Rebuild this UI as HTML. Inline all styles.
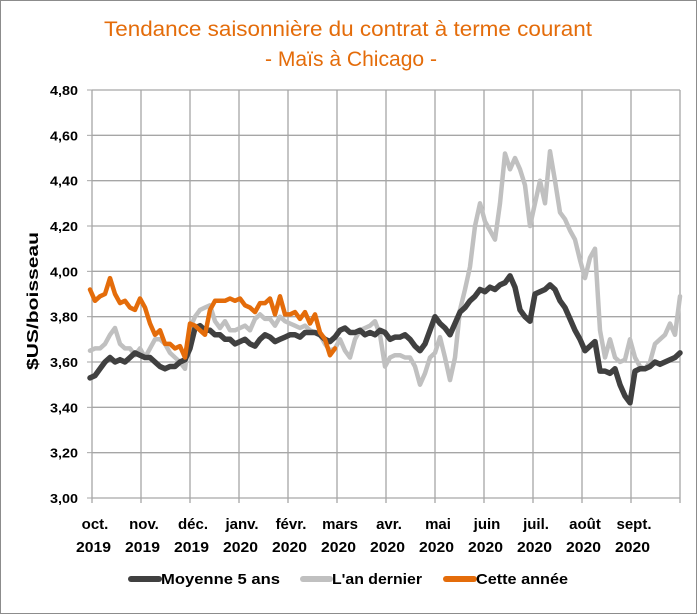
<!DOCTYPE html>
<html><head><meta charset="utf-8"><style>
body{margin:0;background:#fff;}
svg{display:block;font-family:"Liberation Sans",Arial,sans-serif;}
</style></head><body>
<svg id="chart" width="697" height="614" viewBox="0 0 697 614">
<rect x="0.5" y="0.5" width="696" height="613" fill="#fff" stroke="#8c8c8c"/>
<text x="104" y="36" textLength="488" lengthAdjust="spacingAndGlyphs" font-size="21" fill="#E46C0A">Tendance saisonnière du contrat à terme courant</text>
<text x="265" y="66" textLength="172" lengthAdjust="spacingAndGlyphs" font-size="21" fill="#E46C0A">- Maïs à Chicago -</text>
<text transform="translate(38,370) rotate(-90)" textLength="138" lengthAdjust="spacingAndGlyphs" font-size="16" font-weight="bold" fill="#000">$US/boisseau</text>
<g id="grid"></g><g id="axes"></g><g id="series"></g>
<g>
<g><line x1="131" y1="579" x2="159" y2="579" stroke="#404040" stroke-width="6" stroke-linecap="round"/><text x="161" y="584" textLength="119" lengthAdjust="spacingAndGlyphs" font-size="15" font-weight="bold">Moyenne 5 ans</text></g>
<g><line x1="303" y1="579" x2="330" y2="579" stroke="#c0c0c0" stroke-width="6" stroke-linecap="round"/><text x="332" y="584" textLength="90" lengthAdjust="spacingAndGlyphs" font-size="15" font-weight="bold">L'an dernier</text></g>
<g><line x1="446" y1="579" x2="474" y2="579" stroke="#E46C0A" stroke-width="6" stroke-linecap="round"/><text x="476" y="584" textLength="92" lengthAdjust="spacingAndGlyphs" font-size="15" font-weight="bold">Cette année</text></g>
</g>
</svg>
<script>
const months=["oct.","nov.","déc.","janv.","févr.","mars","avr.","mai","juin","juil.","août","sept."];
const years=["2019","2019","2019","2020","2020","2020","2020","2020","2020","2020","2020","2020"];
const yTicks=[3.0,3.2,3.4,3.6,3.8,4.0,4.2,4.4,4.6,4.8];
const sampleStep=5/49; // months between samples
const moyenne=[3.53,3.54,3.57,3.60,3.62,3.60,3.61,3.60,3.62,3.64,3.63,3.62,3.62,3.60,3.58,3.57,3.58,3.58,3.60,3.61,3.66,3.75,3.76,3.74,3.74,3.72,3.72,3.70,3.70,3.68,3.69,3.70,3.68,3.67,3.70,3.72,3.71,3.69,3.70,3.71,3.72,3.72,3.71,3.73,3.73,3.73,3.72,3.70,3.69,3.71,3.74,3.75,3.73,3.73,3.74,3.72,3.73,3.72,3.74,3.73,3.70,3.71,3.71,3.72,3.70,3.67,3.65,3.68,3.74,3.80,3.77,3.75,3.72,3.77,3.82,3.84,3.87,3.89,3.92,3.91,3.93,3.92,3.94,3.95,3.98,3.93,3.83,3.80,3.78,3.90,3.91,3.92,3.94,3.92,3.87,3.84,3.79,3.74,3.70,3.65,3.67,3.69,3.56,3.56,3.55,3.57,3.50,3.45,3.42,3.56,3.57,3.57,3.58,3.60,3.59,3.60,3.61,3.62,3.64];
const anDernier=[3.65,3.66,3.66,3.68,3.72,3.75,3.68,3.66,3.66,3.63,3.66,3.62,3.66,3.70,3.70,3.68,3.64,3.62,3.60,3.57,3.75,3.80,3.83,3.84,3.85,3.78,3.75,3.78,3.74,3.74,3.75,3.76,3.74,3.79,3.81,3.79,3.79,3.76,3.80,3.78,3.77,3.76,3.75,3.76,3.74,3.73,3.72,3.68,3.65,3.66,3.70,3.65,3.62,3.70,3.74,3.75,3.76,3.78,3.72,3.58,3.62,3.63,3.63,3.62,3.62,3.58,3.50,3.55,3.62,3.64,3.71,3.62,3.52,3.62,3.83,3.92,4.02,4.20,4.30,4.22,4.18,4.14,4.30,4.52,4.45,4.50,4.45,4.38,4.20,4.30,4.40,4.30,4.53,4.40,4.26,4.23,4.18,4.14,4.05,3.97,4.06,4.10,3.74,3.62,3.70,3.62,3.60,3.61,3.70,3.62,3.58,3.57,3.60,3.68,3.70,3.72,3.77,3.72,3.89];
const cetteAnnee=[3.92,3.87,3.89,3.90,3.97,3.90,3.86,3.87,3.84,3.83,3.88,3.84,3.77,3.72,3.74,3.68,3.68,3.66,3.67,3.62,3.77,3.76,3.74,3.72,3.83,3.87,3.87,3.87,3.88,3.87,3.88,3.85,3.84,3.82,3.86,3.86,3.88,3.81,3.89,3.81,3.81,3.82,3.79,3.82,3.77,3.81,3.73,3.70,3.63,3.66];

const X0=92,MW=49,Y0=498,YH=408,VMIN=3.0,VMAX=4.8;
const xScale=m=>X0+m*MW;
const yScale=v=>Y0-(v-VMIN)/(VMAX-VMIN)*YH;
const NS="http://www.w3.org/2000/svg";
function mk(t,a,p){const e=document.createElementNS(NS,t);for(const k in a)e.setAttribute(k,a[k]);p.appendChild(e);return e;}
const grid=document.getElementById('grid'),axes=document.getElementById('axes'),ser=document.getElementById('series');
yTicks.forEach(v=>{
  const y=yScale(v);
  if(v>VMIN){const l=mk('line',{x1:X0,x2:xScale(12),y1:y,y2:y,stroke:'#a6a6a6','stroke-width':1.3},grid);
  
  }
  const tk=mk('line',{x1:X0-5,x2:X0,y1:y,y2:y,stroke:'#a6a6a6'},axes);
  
  
  const t=mk('text',{x:X0-42,y:y+5,textLength:28,lengthAdjust:'spacingAndGlyphs','font-size':13,'font-weight':'bold'},axes);
  t.textContent=v.toFixed(2).replace('.',',');
  
  
});
for(let i=0;i<=12;i++){
  const x=xScale(i);
  const l=mk('line',{x1:x,x2:x,y1:yScale(VMAX),y2:Y0+5,stroke:'#a6a6a6','stroke-width':1.3},grid);
  
  
}
const ax=mk('line',{x1:X0,x2:xScale(12),y1:Y0,y2:Y0,stroke:'#a6a6a6','stroke-width':1.3},axes);


months.forEach((m,i)=>{
  const x=xScale(i)+3;
  const t1=mk('text',{x:x,y:529,'text-anchor':'middle','font-size':15,'font-weight':'bold'},axes);
  t1.textContent=m;
  
  
  const t2=mk('text',{x:x-1.5,y:552,'text-anchor':'middle','font-size':15,'font-weight':'bold',textLength:35,lengthAdjust:'spacingAndGlyphs'},axes);
  t2.textContent=years[i];
  
  
});
function draw(vals,color,w,name){
  const d=vals.map((v,i)=>(i?'L':'M')+xScale(i*sampleStep-0.04).toFixed(1)+','+yScale(v).toFixed(1)).join('');
  const p=mk('path',{d:d,fill:'none',stroke:color,'stroke-width':w,'stroke-linejoin':'round','stroke-linecap':'round'},ser);
  
  
}
draw(anDernier,'#c0c0c0',4.5,'series-an-dernier');
draw(moyenne,'#404040',5.5,'series-moyenne-5-ans');
draw(cetteAnnee,'#E46C0A',4.5,'series-cette-annee');
</script>
</body></html>
